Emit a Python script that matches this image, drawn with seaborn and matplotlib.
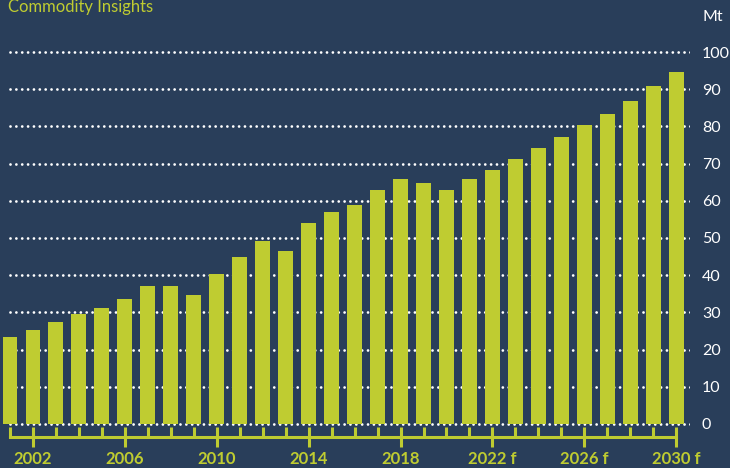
#! /usr/bin/env python

import matplotlib
matplotlib.use("Agg")
import matplotlib.pyplot as plt
from matplotlib.ticker import FixedLocator
import seaborn as sns
import pandas as pd

# values (Mt)
years = [
    "2001", "2002", "2003", "2004", "2005", "2006", "2007", "2008", "2009", "2010",
    "2011", "2012", "2013", "2014", "2015", "2016", "2017", "2018", "2019", "2020",
    "2021", "2022", "2023", "2024", "2025", "2026", "2027", "2028", "2029", "2030",
]
output_mt = [
    23.5, 25.4, 27.3, 29.7, 31.3, 33.7, 37.2, 37.0, 34.6, 40.2,
    44.8, 49.3, 46.6, 53.9, 57.1, 59.0, 62.9, 65.8, 64.7, 62.9,
    65.8, 68.2, 71.2, 74.2, 77.1, 80.4, 83.3, 86.9, 90.9, 94.7,
]
label_years = ["2002", "2006", "2010", "2014", "2018", "2022", "2026", "2030"]
label_texts = ["2002", "2006", "2010", "2014", "2018", "2022 f", "2026 f", "2030 f"]
y_ticks = [0, 10, 20, 30, 40, 50, 60, 70, 80, 90, 100]

BG = "#293e5a"
LIME = "#bfcc31"


def main():
    sns.set_theme(style = "white")
    plt.rcParams["font.family"] = ["Lato", "DejaVu Sans"]

    fig = plt.figure(figsize = (7.3, 4.68), dpi = 100, facecolor = BG)
    ax = fig.add_axes([0, 0, 690 / 730, 1])
    ax.set_facecolor(BG)

    df = pd.DataFrame({"year": years, "mt": output_mt})
    sns.barplot(data = df, x = "year", y = "mt", color = LIME, saturation = 1,
                width = 0.65, ax = ax, zorder = 3, edgecolor = "none",
                linewidth = 0)

    ax.set_xlim(-0.435, 29.6)
    ax.set_ylim(-11.83, 113.98)

    # dotted gridlines, drawn behind the bars
    grid = ax.hlines(y_ticks, 0, 29.6, colors = "white", linewidth = 2,
                     linestyles = [(0, (0.01, 2.1))], zorder = 1)
    grid.set_capstyle("round")

    for side in ["left", "top", "right"]:
        ax.spines[side].set_visible(False)
    ax.spines["bottom"].set_position(("data", -3.5))
    ax.spines["bottom"].set_bounds(0, 29)
    ax.spines["bottom"].set_color(LIME)
    ax.spines["bottom"].set_linewidth(2.2)

    major_pos = [years.index(y) for y in label_years]
    ax.xaxis.set_major_locator(FixedLocator(major_pos))
    ax.xaxis.set_minor_locator(FixedLocator(list(range(len(years)))))
    ax.set_xticklabels(label_texts)
    ax.tick_params(axis = "x", which = "major", bottom = True, direction = "inout",
                   length = 15, width = 2.2, color = LIME, labelcolor = LIME,
                   labelsize = 12, pad = 2.5)
    ax.tick_params(axis = "x", which = "minor", bottom = True, direction = "in",
                   length = 7, width = 2.2, color = LIME)
    for lbl in ax.get_xticklabels():
        lbl.set_fontweight("bold")

    ax.yaxis.tick_right()
    ax.set_yticks(y_ticks)
    ax.tick_params(axis = "y", length = 0, pad = 8.5, labelcolor = "white",
                   labelsize = 11.5)
    ax.set_xlabel("")
    ax.set_ylabel("")

    fig.text(702 / 730, 1 - 17 / 468, "Mt", color = "white", fontsize = 11.5,
             ha = "left", va = "center")
    fig.text(8 / 730, 1 - 12 / 468, "Commodity Insights", color = LIME,
             fontsize = 12, ha = "left", va = "baseline")

    fig.savefig("out.png", dpi = 100, facecolor = BG)
    plt.close(fig)


if __name__ == '__main__':
    main()
